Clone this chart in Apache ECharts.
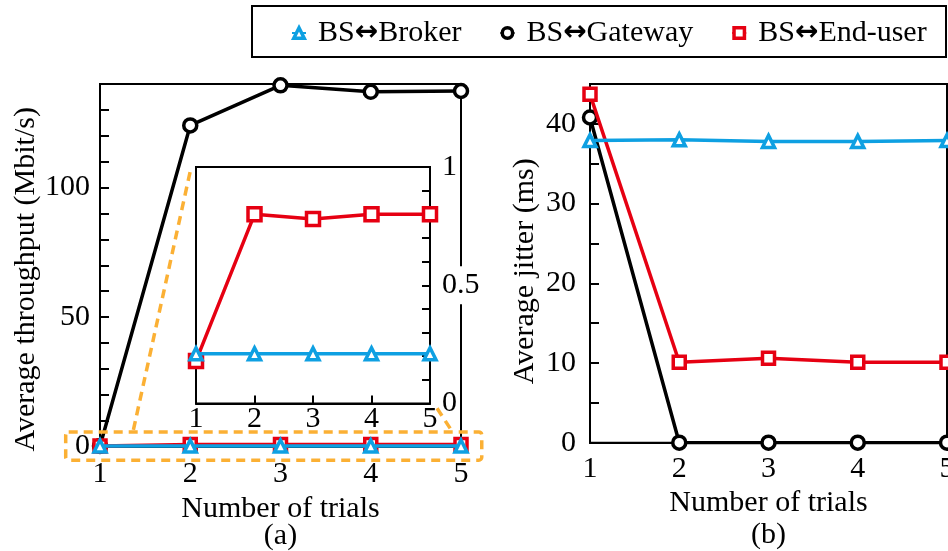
<!DOCTYPE html>
<html><head><meta charset="utf-8">
<script src="https://cdn.jsdelivr.net/npm/echarts@6/dist/echarts.min.js"></script>
<style>html,body{margin:0;padding:0;background:#fff}#c{width:948px;height:551px}</style>
</head><body><div id="c"></div>
<script>
const trials = [1, 2, 3, 4, 5];
const thrBroker = [0.21, 0.21, 0.21, 0.21, 0.21];
const thrGateway = [0.2, 124, 139.5, 137, 137.3];
const thrEndUser = [0.18, 0.80, 0.78, 0.80, 0.80];
const jitBroker = [37.9, 38.0, 37.8, 37.8, 37.9];
const jitGateway = [40.8, 0, 0, 0, 0];
const jitEndUser = [43.7, 10.1, 10.6, 10.1, 10.1];
const seriesNames = ['BS↔Broker', 'BS↔Gateway', 'BS↔End-user'];
const thrLabels = [0, 50, 100];
const insetLabels = [0, 0.5, 1];
const jitLabels = [0, 10, 20, 30, 40];

const FONT = "'Liberation Serif', 'Times New Roman', Times, 'DejaVu Serif', serif";
const FS = 30;
const BLUE = '#0EA0E2', BLACK = '#000000', RED = '#E60012', ORANGE = '#FBB034';

function pts(ys) { return trials.map((x, i) => [x, ys[i]]); }
function lineSeries(name, color, symbol, size, ys, xi, yi, z) {
  return {
    type: 'line', name, xAxisIndex: xi, yAxisIndex: yi, data: pts(ys),
    symbol, symbolSize: size, showAllSymbol: true, z,
    lineStyle: { color, width: 3.5 },
    itemStyle: { color: '#fff', borderColor: color, borderWidth: 3.5 },
    emphasis: { disabled: true }, animation: false
  };
}
const fmtOnly = arr => v => (arr.some(a => Math.abs(a - v) < 1e-6) ? String(v) : '');
const txt = { fontFamily: FONT, fontSize: FS, color: '#000' };
const gridBase = { show: true, borderColor: '#000', borderWidth: 2, containLabel: false, outerBoundsMode: 'none' };

const chart = echarts.init(document.getElementById('c'));
const option = {
  animation: false,
  backgroundColor: '#fff',
  textStyle: { fontFamily: FONT },
  legend: {
    data: seriesNames,
    left: 286, top: 13,
    itemWidth: 14, itemHeight: 13, itemGap: 38,
    itemStyle: { borderWidth: 3.5 },
    formatter: n => n.replace('↔', '{a|↔}'),
    textStyle: { fontFamily: FONT, fontSize: FS, color: '#000', padding: [0, 0, 0, 7],
      rich: { a: { fontFamily: 'DejaVu Sans', fontWeight: 'bold', fontSize: 28, color: '#000' } } }
  },
  grid: [
    Object.assign({ left: 100, top: 84, right: 487, bottom: 104.5, backgroundColor: 'transparent' }, gridBase),
    Object.assign({ left: 196, top: 167, right: 518, bottom: 147.5, backgroundColor: '#fff' }, gridBase),
    Object.assign({ left: 590, top: 84, right: 1, bottom: 108.3, backgroundColor: 'transparent' }, gridBase)
  ],
  xAxis: [
    { gridIndex: 0, type: 'value', min: 1, max: 5, interval: 1,
      axisLine: { lineStyle: { color: '#000', width: 2 } }, axisTick: { show: false }, splitLine: { show: false },
      axisLabel: Object.assign({ margin: 13 }, txt),
      name: 'Number of trials', nameLocation: 'middle', nameGap: 43, nameTextStyle: txt },
    { gridIndex: 1, type: 'value', min: 1, max: 5, interval: 1,
      axisLine: { lineStyle: { color: '#000', width: 2 } },
      axisTick: { show: true, inside: true, length: 8, lineStyle: { color: '#000', width: 2 } }, splitLine: { show: false },
      axisLabel: Object.assign({ margin: 1 }, txt) },
    { gridIndex: 2, type: 'value', min: 1, max: 5, interval: 1,
      axisLine: { lineStyle: { color: '#000', width: 2 } }, axisTick: { show: false }, splitLine: { show: false },
      axisLabel: Object.assign({ margin: 11 }, txt),
      name: 'Number of trials', nameLocation: 'middle', nameGap: 41, nameTextStyle: txt }
  ],
  yAxis: [
    { gridIndex: 0, type: 'value', min: 0, max: 140, interval: 10,
      axisLine: { show: true, lineStyle: { color: '#000', width: 2 } },
      axisTick: { show: true, inside: true, length: 9, lineStyle: { color: '#000', width: 2 } }, splitLine: { show: false },
      axisLabel: Object.assign({ margin: 10, formatter: fmtOnly(thrLabels) }, txt),
      name: 'Average throughput (Mbit/s)', nameLocation: 'middle', nameGap: 59,
      nameTextStyle: Object.assign({ padding: [0, 28, 0, 0] }, txt) },
    { gridIndex: 1, type: 'value', min: 0, max: 1, interval: 0.1, position: 'right',
      axisLine: { show: true, lineStyle: { color: '#000', width: 2 } },
      axisTick: { show: true, inside: true, length: 8, lineStyle: { color: '#000', width: 2 } }, splitLine: { show: false },
      axisLabel: Object.assign({ margin: 10, formatter: fmtOnly(insetLabels), backgroundColor: '#fff', padding: [4, 2, 4, 2] }, txt) },
    { gridIndex: 2, type: 'value', min: 0, max: 45, interval: 5,
      axisLine: { show: true, lineStyle: { color: '#000', width: 2 } },
      axisTick: { show: true, inside: true, length: 9, lineStyle: { color: '#000', width: 2 } }, splitLine: { show: false },
      axisLabel: Object.assign({ margin: 14, formatter: fmtOnly(jitLabels) }, txt),
      name: 'Average jitter (ms)', nameLocation: 'middle', nameGap: 50,
      nameTextStyle: Object.assign({ padding: [0, 16, 0, 0] }, txt) }
  ],
  series: [
    lineSeries(seriesNames[1], BLACK, 'circle', 13, thrGateway, 0, 0, 2),
    lineSeries(seriesNames[2], RED, 'rect', 12, thrEndUser, 0, 0, 3),
    lineSeries(seriesNames[0], BLUE, 'triangle', 12, thrBroker, 0, 0, 4),
    lineSeries(seriesNames[2], RED, 'rect', 13, thrEndUser, 1, 1, 3),
    lineSeries(seriesNames[0], BLUE, 'triangle', 12, thrBroker, 1, 1, 4),
    lineSeries(seriesNames[1], BLACK, 'circle', 13, jitGateway, 2, 2, 2),
    lineSeries(seriesNames[2], RED, 'rect', 12, jitEndUser, 2, 2, 3),
    lineSeries(seriesNames[0], BLUE, 'triangle', 12, jitBroker, 2, 2, 4)
  ]
};
chart.setOption(option);

// Annotations: zoom box, connectors, legend frame, panel captions
const m = (x, y) => chart.convertToPixel({ gridIndex: 0 }, [x, y]);
const ins = (x, y) => chart.convertToPixel({ gridIndex: 1 }, [x, y]);
const bTL = m(0.62, 5.6), bBR = m(5.23, -5.3);
const l1a = m(1.37, 6.4), l1b = ins(0.9, 0.98);
const l2a = m(4.88, 7.0), l2b = ins(5.12, -0.02);
const dash = { stroke: ORANGE, lineWidth: 3.5, lineDash: [9, 6], fill: null };
const cx = m(3, 0);
const rcx = chart.convertToPixel({ gridIndex: 2 }, [3, 0]);
const capFont = FS + 'px ' + FONT;
chart.setOption({
  graphic: [
    { type: 'rect', z: 50, shape: { x: bTL[0], y: bTL[1], width: bBR[0] - bTL[0], height: bBR[1] - bTL[1], r: 3 }, style: dash },
    { type: 'line', z: 50, shape: { x1: l1a[0], y1: l1a[1], x2: l1b[0], y2: l1b[1] }, style: dash },
    { type: 'line', z: 50, shape: { x1: l2a[0], y1: l2a[1], x2: l2b[0], y2: l2b[1] }, style: dash },
    { type: 'rect', z: 50, shape: { x: 252, y: 6, width: 694, height: 51 }, style: { stroke: '#000', lineWidth: 2, fill: null } },
    { type: 'text', z: 50, x: cx[0], y: 536, style: { text: '(a)', font: capFont, textAlign: 'center', textVerticalAlign: 'middle', fill: '#000' } },
    { type: 'text', z: 50, x: rcx[0], y: 535, style: { text: '(b)', font: capFont, textAlign: 'center', textVerticalAlign: 'middle', fill: '#000' } }
  ]
});
</script></body></html>
